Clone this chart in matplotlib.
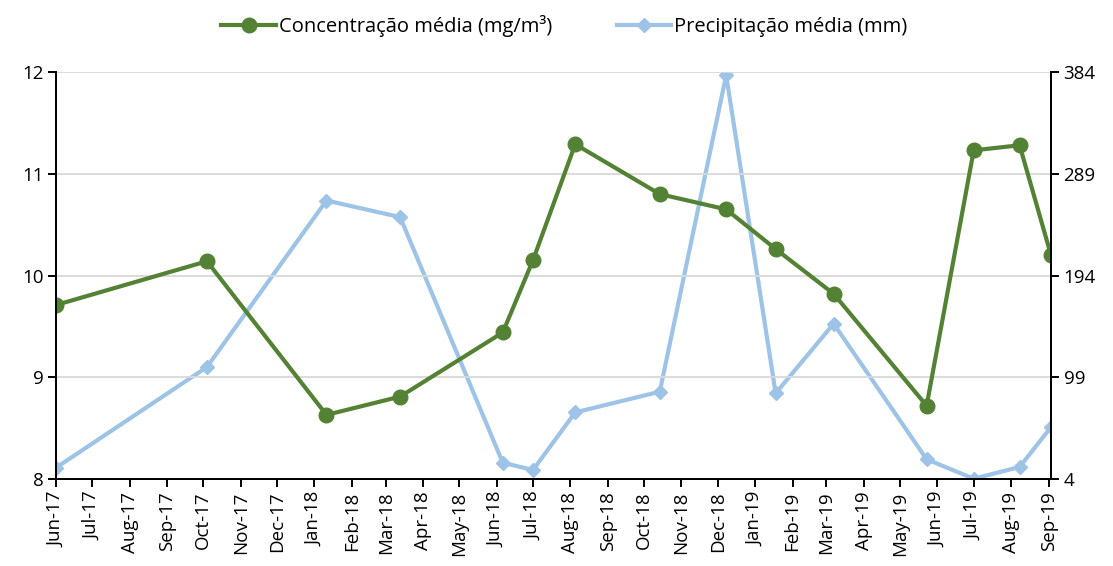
import matplotlib
matplotlib.use("Agg")
import matplotlib.pyplot as plt
import matplotlib.dates as mdates
import pandas as pd

plt.rcParams['font.family'] = ['Open Sans', 'DejaVu Sans']

dates = ["2017-06-01", "2017-10-04", "2018-01-11", "2018-03-13", "2018-06-06",
         "2018-07-01", "2018-08-05", "2018-10-14", "2018-12-08", "2019-01-18",
         "2019-03-07", "2019-05-23", "2019-07-01", "2019-08-08", "2019-09-03"]
concentracao = [9.71, 10.14, 8.63, 8.81, 9.44, 10.15, 11.29, 10.80, 10.65, 10.26,
                9.82, 8.72, 11.23, 11.28, 10.20]
precipitacao = [14.5, 108.5, 264, 248.5, 19.2, 12.4, 66.2, 85.5, 381, 84,
                149, 22.4, 4.3, 15.2, 52.5]
left_ticks = [8, 9, 10, 11, 12]
right_ticks = [4, 99, 194, 289, 384]

x = pd.to_datetime(dates)

fig = plt.figure(figsize=(11.13, 5.66), dpi=100)
ax = fig.add_axes([0.0503, 0.1537, 0.894, 0.7191])
ax2 = ax.twinx()

ax.set_zorder(ax2.get_zorder() + 1)
ax.patch.set_visible(False)

l1, = ax.plot(x, concentracao, color='#548235', lw=3, marker='o', ms=10.5,
              label='Concentração média (mg/m³)')
l2, = ax2.plot(x, precipitacao, color='#9DC3E6', lw=3, marker='D', ms=7,
               label='Precipitação média (mm)')

ax.set_ylim(8, 12)
ax.set_yticks(left_ticks)
ax2.set_ylim(4, 384)
ax2.set_yticks(right_ticks)
ax.set_xlim(pd.Timestamp("2017-06-01"), pd.Timestamp("2019-09-03"))

ax.xaxis.set_major_locator(mdates.MonthLocator())
ax.xaxis.set_major_formatter(mdates.DateFormatter('%b-%y'))
plt.setp(ax.get_xticklabels(), rotation=90)

ax.grid(axis='y', color='#d9d9d9', lw=1.3)
ax.set_axisbelow(True)
for a in (ax, ax2):
    a.spines['top'].set_visible(False)
    for s in ('left', 'right', 'bottom'):
        a.spines[s].set_linewidth(1.4)
    a.tick_params(labelsize=13.5, length=6, width=1.4, direction='out', pad=3)

fig.legend(handles=[l1, l2], loc='upper center', bbox_to_anchor=(0.507, 1.005),
           ncol=2, frameon=False, fontsize=14.5, handlelength=2.7, columnspacing=3.2,
           handletextpad=0.15)

fig.savefig('out.png', dpi=100)
